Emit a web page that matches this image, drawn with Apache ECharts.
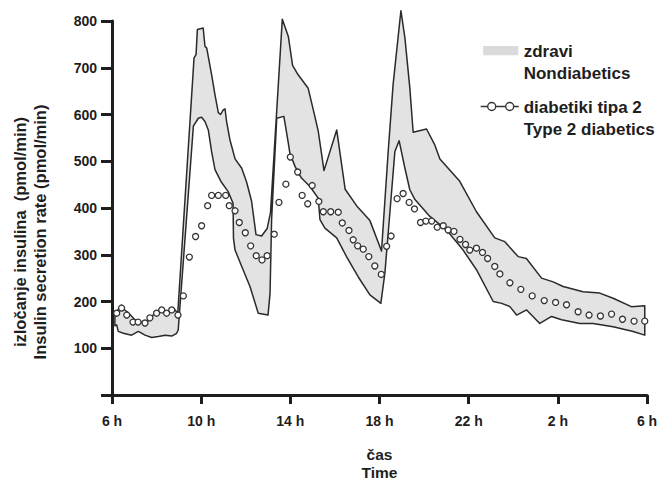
<!DOCTYPE html>
<html><head><meta charset="utf-8">
<script src="https://cdn.jsdelivr.net/npm/echarts@6/dist/echarts.min.js"></script>
<style>html,body{margin:0;padding:0;background:#fff}#c{width:664px;height:482px}</style>
</head><body><div id="c"></div>
<script>
// x ticks every 4 h, from 6 h to 6 h next day (values in hours since midnight, day 1)
const xTickLabels = ['6 h', '10 h', '14 h', '18 h', '22 h', '2 h', '6 h'];
const yTickValues = [100, 200, 300, 400, 500, 600, 700, 800];

// Nondiabetics band: upper boundary
const upperHours = [6.13, 6.21, 6.36, 6.51, 6.73, 7.03, 7.33, 7.63, 7.93, 8.23, 8.52, 8.83, 8.95, 9.68, 9.77, 9.83, 10.09, 10.17, 10.25, 10.47, 10.62, 10.77, 10.87, 10.99, 11.07, 11.14, 11.29, 11.52, 11.82, 12.04, 12.26, 12.46, 12.71, 12.96, 13.11, 13.64, 13.91, 14.1, 14.35, 14.8, 15.03, 15.25, 15.51, 16.08, 16.46, 16.97, 17.57, 18.09, 18.39, 18.61, 18.96, 19.14, 19.36, 19.51, 20.11, 20.48, 20.71, 21.6, 22.35, 23.17, 23.62, 24.22, 24.59, 25.27, 25.79, 26.24, 27.13, 27.88, 28.48, 29.3, 29.9];
const upperValues = [176, 178, 189, 184, 176, 161, 155, 159, 176, 178, 180, 182, 175, 721, 728, 782, 785, 746, 742, 685, 642, 604, 600, 610, 612, 585, 546, 505, 485, 455, 415, 343, 340, 356, 390, 804, 767, 705, 685, 656, 610, 565, 480, 567, 440, 405, 373, 308, 521, 664, 822, 764, 657, 562, 569, 535, 505, 457, 392, 336, 328, 296, 292, 250, 242, 232, 221, 218, 207, 189, 191];

// Nondiabetics band: lower boundary
const lowerHours = [6.13, 6.21, 6.28, 6.51, 6.88, 7.18, 7.48, 7.78, 8.08, 8.38, 8.68, 8.9, 8.97, 9.65, 9.87, 10.02, 10.17, 10.32, 10.47, 10.62, 10.91, 11.21, 11.43, 11.45, 11.52, 11.82, 12.19, 12.56, 13.0, 13.09, 13.16, 13.39, 13.71, 13.91, 13.98, 14.21, 14.5, 14.88, 15.25, 15.33, 15.55, 16.08, 16.52, 17.04, 17.57, 18.06, 18.24, 18.39, 18.69, 18.88, 19.14, 19.36, 19.59, 20.26, 21.01, 21.75, 22.35, 23.1, 23.48, 23.85, 24.15, 24.6, 25.19, 25.72, 26.17, 26.99, 27.58, 28.48, 29.38, 29.9];
const lowerValues = [148, 150, 136, 132, 128, 136, 128, 123, 125, 128, 126, 132, 139, 575, 592, 594, 585, 567, 520, 482, 455, 435, 410, 335, 310, 275, 232, 175, 171, 218, 375, 592, 596, 539, 517, 489, 464, 446, 421, 375, 357, 336, 296, 253, 214, 196, 260, 346, 521, 544, 485, 439, 418, 382, 353, 310, 268, 200, 196, 189, 171, 182, 153, 168, 161, 153, 153, 146, 136, 128];

// Type 2 diabetics (open circles)
const diabHours = [6.21, 6.43, 6.66, 6.94, 7.17, 7.48, 7.7, 8.0, 8.23, 8.45, 8.68, 8.96, 9.2, 9.47, 9.75, 10.02, 10.29, 10.47, 10.77, 11.1, 11.26, 11.52, 11.71, 11.98, 12.22, 12.47, 12.73, 12.96, 13.28, 13.49, 13.8, 14.0, 14.33, 14.53, 14.78, 14.98, 15.28, 15.48, 15.81, 16.15, 16.33, 16.63, 16.82, 17.02, 17.27, 17.52, 17.79, 18.08, 18.32, 18.52, 18.79, 19.06, 19.33, 19.57, 19.84, 20.08, 20.34, 20.59, 20.86, 21.08, 21.34, 21.61, 21.86, 22.05, 22.35, 22.62, 22.85, 23.17, 23.4, 23.85, 24.34, 24.85, 25.39, 25.9, 26.39, 26.91, 27.4, 27.91, 28.41, 28.9, 29.42, 29.9];
const diabValues = [175, 186, 171, 156, 156, 154, 165, 175, 182, 175, 182, 171, 212, 295, 339, 362, 405, 427, 427, 427, 405, 394, 369, 347, 319, 298, 289, 298, 344, 412, 451, 509, 477, 427, 409, 448, 414, 392, 392, 391, 368, 352, 332, 319, 312, 296, 276, 258, 318, 340, 420, 431, 412, 398, 369, 372, 372, 359, 362, 353, 350, 333, 322, 310, 314, 305, 292, 275, 259, 240, 226, 212, 202, 198, 193, 178, 171, 169, 173, 162, 158, 158];

const nameHealthy = 'zdravi\nNondiabetics';
const nameDiab = 'diabetiki tipa 2\nType 2 diabetics';
const FONT = '"Liberation Sans", Arial, Helvetica, sans-serif';
const INK = '#1e1e1e';

const chart = echarts.init(document.getElementById('c'), null, {renderer: 'svg'});
chart.setOption({
  animation: false,
  backgroundColor: '#ffffff',
  textStyle: {fontFamily: FONT},
  grid: {left: 112, right: 17, top: 21, bottom: 87, containLabel: false, outerBoundsMode: 'none'},
  legend: {
    orient: 'vertical', left: 475, top: 35, itemGap: 12, itemWidth: 38, itemHeight: 32,
    selectedMode: false,
    textStyle: {fontFamily: FONT, fontSize: 17, fontWeight: 'bold', color: INK, lineHeight: 22},
    data: [
      {name: nameHealthy,
       icon: 'path://M2 1 H36 V10 H2 Z M0 32 L0 32',
       itemStyle: {color: '#dadada', borderColor: '#dadada', borderWidth: 0}},
      {name: nameDiab,
       icon: 'path://M0 5 H7 M7 5 A4 4 0 1 0 15 5 A4 4 0 1 0 7 5 M15 5 H25 M25 5 A4 4 0 1 0 33 5 A4 4 0 1 0 25 5 M33 5 H38 M0 32 L0 32',
       itemStyle: {color: '#ffffff', borderColor: '#333', borderWidth: 1.4}}
    ]
  },
  xAxis: {
    type: 'value', min: 6, max: 30, interval: 4,
    name: 'čas\nTime', nameLocation: 'middle', nameGap: 50,
    nameTextStyle: {fontFamily: FONT, fontSize: 15.5, fontWeight: 'bold', color: INK, lineHeight: 18},
    axisLine: {show: true, onZero: false, lineStyle: {color: INK, width: 3}},
    axisTick: {show: true, length: 9, lineStyle: {color: INK, width: 3}},
    axisLabel: {
      margin: 19, fontFamily: FONT, fontSize: 14, fontWeight: 'bold', color: INK,
      formatter: function (v) { return xTickLabels[Math.round((v - 6) / 4)] || ''; }
    },
    splitLine: {show: false}
  },
  yAxis: {
    type: 'value', min: 0, max: 800, interval: 100,
    name: 'izločanje insulina  (pmol/min)\nInsulin secretion rate (pmol/min)',
    nameLocation: 'middle', nameGap: 62,
    nameTextStyle: {fontFamily: FONT, fontSize: 16.5, fontWeight: 'bold', color: INK, lineHeight: 20, padding: [0, 48, 0, 0]},
    axisLine: {show: true, lineStyle: {color: INK, width: 3}},
    axisTick: {show: true, length: 11, lineStyle: {color: INK, width: 3}},
    axisLabel: {
      margin: 15, fontFamily: FONT, fontSize: 14, fontWeight: 'bold', color: INK,
      formatter: function (v) { return yTickValues.indexOf(v) >= 0 ? String(v) : ''; }
    },
    splitLine: {show: false}
  },
  series: [
    {
      name: nameHealthy,
      type: 'custom',
      clip: false,
      z: 1,
      itemStyle: {color: '#dadada'},
      data: [[6, 0]],
      encode: {x: 0, y: 1},
      renderItem: function (params, api) {
        const pts = [];
        for (let i = 0; i < upperHours.length; i++) pts.push(api.coord([upperHours[i], upperValues[i]]));
        for (let i = lowerHours.length - 1; i >= 0; i--) pts.push(api.coord([lowerHours[i], lowerValues[i]]));
        return {
          type: 'polygon',
          shape: {points: pts},
          style: {fill: '#e3e3e3', stroke: '#2a2a2a', lineWidth: 1.5, lineJoin: 'round'}
        };
      }
    },
    {
      name: nameDiab,
      type: 'line',
      clip: false,
      z: 3,
      data: diabHours.map(function (h, i) { return [h, diabValues[i]]; }),
      symbol: 'circle',
      symbolSize: 6,
      showSymbol: true,
      itemStyle: {color: '#ffffff', borderColor: '#333', borderWidth: 1.3},
      lineStyle: {opacity: 0, width: 0}
    }
  ]
});
</script>
</body></html>
